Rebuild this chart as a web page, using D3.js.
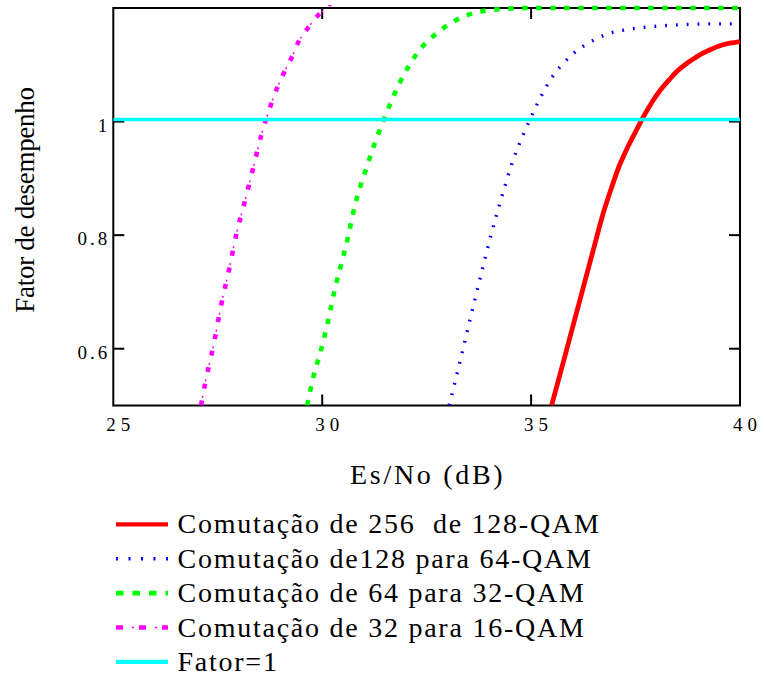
<!DOCTYPE html>
<html>
<head>
<meta charset="utf-8">
<script src="https://cdn.jsdelivr.net/npm/d3@7/dist/d3.min.js"></script>
<style>
  html, body { margin: 0; padding: 0; background: #ffffff; }
  svg { display: block; }
  text { font-family: "Liberation Serif", "Times New Roman", serif; fill: #000; }
</style>
</head>
<body>
<svg id="chart" width="764" height="677"></svg>
<script>
// Es/No (dB) sample points and performance factor for each mode switch
const x256to128 = [35.49, 35.7, 35.9, 36.1, 36.3, 36.5, 36.7, 36.9, 37.1, 37.3, 37.5, 37.7, 37.9, 38.1, 38.3, 38.5, 38.7, 38.9, 39.1, 39.3, 39.5, 39.75, 40];
const y256to128 = [0.5, 0.557, 0.612, 0.667, 0.722, 0.777, 0.832, 0.878, 0.92, 0.953, 0.982, 1.01, 1.035, 1.056, 1.073, 1.089, 1.101, 1.111, 1.12, 1.127, 1.133, 1.138, 1.141];

const x128to64 = [33.04, 33.3, 33.55, 33.8, 34.05, 34.3, 34.55, 34.8, 35.0, 35.25, 35.5, 35.75, 36.0, 36.3, 36.6, 36.9, 37.3, 37.7, 38.2, 38.7, 39.3, 40];
const y128to64 = [0.5, 0.578, 0.655, 0.73, 0.803, 0.868, 0.928, 0.975, 1.008, 1.046, 1.078, 1.101, 1.119, 1.135, 1.147, 1.156, 1.162, 1.166, 1.169, 1.171, 1.172, 1.172];

const x64to32 = [29.64, 29.79, 29.95, 30.11, 30.31, 30.47, 30.62, 30.74, 31.07, 31.46, 31.86, 32.26, 32.82, 33.46, 34.26, 35.0, 36.0, 37.0, 38.0, 39.0, 40];
const y64to32 = [0.5, 0.551, 0.592, 0.639, 0.707, 0.753, 0.797, 0.839, 0.921, 1.001, 1.069, 1.119, 1.16, 1.187, 1.198, 1.2, 1.2, 1.2, 1.2, 1.2, 1.2];

const x32to16 = [27.1, 27.21, 27.41, 27.58, 27.77, 27.95, 28.15, 28.35, 28.55, 28.67, 28.91, 29.09, 29.27, 29.43, 29.67, 29.91, 30.1, 30.3];
const y32to16 = [0.5, 0.543, 0.61, 0.676, 0.739, 0.803, 0.86, 0.919, 0.978, 1.007, 1.057, 1.087, 1.113, 1.14, 1.166, 1.188, 1.2, 1.22];

const fatorLevel = 1;

const legendLabels = [
  "Comutação de 256  de 128-QAM",
  "Comutação de128 para 64-QAM",
  "Comutação de 64 para 32-QAM",
  "Comutação de 32 para 16-QAM",
  "Fator=1"
];

const xTicks = [25, 30, 35, 40];
const yTicks = [0.6, 0.8, 1];
const xTitle = "Es/No (dB)";
const yTitle = "Fator de desempenho";

// ---- layout ----
const svg = d3.select("#chart");
const plot = { left: 113.3, right: 740, top: 8, bottom: 405.5 };

const x = d3.scaleLinear().domain([25, 40]).range([plot.left, plot.right]);
const y = d3.scaleLinear().domain([0.5, 1.2]).range([plot.bottom, plot.top]);

// line styles: curve stroke + optional thin companion stroke (dash-dot)
const styles = [
  { color: "#ff0000", width: 4.8, dash: null, legendDash: null },
  { color: "#0000ff", width: 3.4, dash: "1.8,9", legendDash: "2,10.5" },
  { color: "#00ff00", width: 4.6, dash: "5.5,8.5", legendDash: "7.5,9" },
  { color: "#ff00ff", width: 4.6, dash: "5,12", legendDash: "7,16",
    thin: { width: 1.5, dash: "0,7.5,2,7.5", legendDash: "0,15.7,2.3,5" } },
  { color: "#00ffff", width: 3.6, dash: null, legendDash: null }
];

const seriesList = [
  d3.zip(x256to128, y256to128),
  d3.zip(x128to64, y128to64),
  d3.zip(x64to32, y64to32),
  d3.zip(x32to16, y32to16)
];

// ---- frame ----
svg.append("rect")
  .attr("x", plot.left).attr("y", plot.top)
  .attr("width", plot.right - plot.left).attr("height", plot.bottom - plot.top)
  .attr("fill", "none").attr("stroke", "#000").attr("stroke-width", 2);

// inward ticks on all four sides (interior values only)
const tickLen = 11;
const innerX = xTicks.filter(v => v > 25 && v < 40);
const tickG = svg.append("g").attr("stroke", "#000").attr("stroke-width", 2);
innerX.forEach(v => {
  tickG.append("line").attr("x1", x(v)).attr("x2", x(v)).attr("y1", plot.bottom).attr("y2", plot.bottom - tickLen);
  tickG.append("line").attr("x1", x(v)).attr("x2", x(v)).attr("y1", plot.top).attr("y2", plot.top + tickLen);
});
yTicks.forEach(v => {
  tickG.append("line").attr("x1", plot.left).attr("x2", plot.left + tickLen).attr("y1", y(v)).attr("y2", y(v));
  tickG.append("line").attr("x1", plot.right).attr("x2", plot.right - tickLen).attr("y1", y(v)).attr("y2", y(v));
});

// tick labels
svg.append("g").selectAll("text").data(xTicks).join("text")
  .attr("x", d => x(d) + 7.5)
  .attr("y", 430.5)
  .attr("text-anchor", "middle")
  .attr("font-size", 19)
  .attr("letter-spacing", 5)
  .text(d => d3.format("d")(d));

svg.append("g").selectAll("text").data(yTicks).join("text")
  .attr("x", plot.left - 3)
  .attr("y", d => y(d) + 10)
  .attr("text-anchor", "end")
  .attr("font-size", 19)
  .attr("letter-spacing", 3)
  .text(d => d === 1 ? "1" : d3.format(".1f")(d));

// axis titles
svg.append("text")
  .attr("x", 350).attr("y", 484.3)
  .attr("font-size", 28)
  .attr("letter-spacing", 2.7)
  .text(xTitle);

svg.append("text")
  .attr("transform", "translate(33.5,200) rotate(-90)")
  .attr("text-anchor", "middle")
  .attr("font-size", 27)
  .attr("letter-spacing", -0.3)
  .text(yTitle);

// ---- curves ----
svg.append("clipPath").attr("id", "plotClip")
  .append("rect")
  .attr("x", plot.left).attr("y", plot.top - 3)
  .attr("width", plot.right - plot.left + 2).attr("height", plot.bottom - plot.top + 3);

const line = d3.line().x(d => x(d[0])).y(d => y(d[1])).curve(d3.curveMonotoneX);
const curves = svg.append("g").attr("clip-path", "url(#plotClip)");

seriesList.forEach((pts, i) => {
  const s = styles[i];
  curves.append("path")
    .attr("d", line(pts))
    .attr("fill", "none")
    .attr("stroke", s.color)
    .attr("stroke-width", s.width)
    .attr("stroke-dasharray", s.dash)
    .attr("stroke-linejoin", "round");
  if (s.thin) {
    curves.append("path")
      .attr("d", line(pts))
      .attr("fill", "none")
      .attr("stroke", s.color)
      .attr("stroke-width", s.thin.width)
      .attr("stroke-dasharray", s.thin.dash);
  }
});

// Fator = 1 reference line
curves.append("line")
  .attr("x1", x(25)).attr("x2", x(40))
  .attr("y1", y(fatorLevel) - 2).attr("y2", y(fatorLevel) - 2)
  .attr("stroke", styles[4].color)
  .attr("stroke-width", styles[4].width);

// ---- legend ----
const legend = svg.append("g");
const rowY = i => 524.3 + i * 34.4;
legendLabels.forEach((label, i) => {
  const s = styles[i];
  legend.append("line")
    .attr("x1", 116).attr("x2", 168)
    .attr("y1", rowY(i)).attr("y2", rowY(i))
    .attr("stroke", s.color)
    .attr("stroke-width", i === 0 || i === 4 ? 4.3 : s.width)
    .attr("stroke-dasharray", s.legendDash);
  if (s.thin) {
    legend.append("line")
      .attr("x1", 116).attr("x2", 168)
      .attr("y1", rowY(i)).attr("y2", rowY(i))
      .attr("stroke", s.color)
      .attr("stroke-width", s.thin.width)
      .attr("stroke-dasharray", s.thin.legendDash);
  }
  legend.append("text")
    .attr("x", 177.5).attr("y", rowY(i) + 9)
    .attr("font-size", 28)
    .attr("letter-spacing", 1.75)
    .attr("xml:space", "preserve")
    .style("white-space", "pre")
    .text(label);
});
</script>
</body>
</html>
